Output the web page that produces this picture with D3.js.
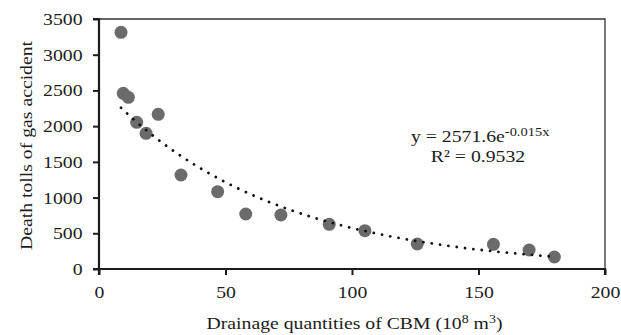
<!DOCTYPE html>
<html>
<head>
<meta charset="utf-8">
<script src="https://cdn.jsdelivr.net/npm/d3@7"></script>
<style>
  html, body { margin: 0; padding: 0; background: #fff; }
  svg { display: block; font-family: "Liberation Serif", "Times New Roman", serif; }
</style>
</head>
<body>
<svg id="chart" width="621" height="335"></svg>
<script>
// Drainage quantities of CBM (10^8 m^3) and death tolls of gas accidents
const drainage = [8.7, 9.6, 11.6, 14.9, 18.6, 23.4, 32.4, 46.9, 58.0, 71.9, 91.0, 105.1, 125.8, 155.9, 170.0, 180.0];
const deaths   = [3314, 2460, 2404, 2054, 1900, 2166, 1316, 1083, 770, 756, 625, 537, 350, 345, 266, 168];

// Exponential trendline y = a·e^(b·x)
const fitA = 2571.6;
const fitB = -0.015;
const fitR2 = 0.9532;

const xTicks = [0, 50, 100, 150, 200];
const yTicks = [0, 500, 1000, 1500, 2000, 2500, 3000, 3500];

const svg = d3.select("#chart");
const margin = { left: 99, right: 16, top: 19, bottom: 66 };
const W = 621, H = 335;

const x = d3.scaleLinear().domain([0, 200]).range([margin.left, W - margin.right]);
const y = d3.scaleLinear().domain([0, 3500]).range([H - margin.bottom, margin.top]);

const fontSize = 17;
const wide = 1.16;   // horizontal widening of the serif glyphs
const ink = "#1c1c1c";

// plot-area frame (top and right edges)
svg.append("path")
  .attr("d", `M${x(0)},${y(3500)}H${x(200)}V${y(0)}`)
  .attr("fill", "none").attr("stroke", "#333").attr("stroke-width", 1.3);

// axes
const xAxis = svg.append("g")
  .attr("transform", `translate(0,${y(0)})`)
  .call(d3.axisBottom(x).tickValues(xTicks).tickSize(6).tickFormat(d3.format("d")));
const yAxis = svg.append("g")
  .attr("transform", `translate(${x(0)},0)`)
  .call(d3.axisLeft(y).tickValues(yTicks).tickSize(6).tickFormat(d3.format("d")));

[xAxis, yAxis].forEach(g => {
  g.select(".domain").attr("stroke", ink).attr("stroke-width", 2.2);
  g.selectAll(".tick line").attr("stroke", ink).attr("stroke-width", 2);
  g.selectAll(".tick text")
    .attr("fill", ink)
    .style("font-family", "'Liberation Serif', serif")
    .style("font-size", fontSize + "px")
    .attr("transform", `scale(${wide},1)`);
});
xAxis.selectAll(".tick text").attr("y", 17);
yAxis.selectAll(".tick text").attr("x", -16.5 / wide);
xAxis.select(".domain").attr("d", `M${x(0)},6V0H${x(200)}V6`);
yAxis.select(".domain").attr("d", `M-6,${y(0)}H0V${y(3500)}H-6`);

// data points
svg.append("g").selectAll("circle")
  .data(drainage.map((d, i) => [d, deaths[i]]))
  .join("circle")
  .attr("cx", d => x(d[0]))
  .attr("cy", d => y(d[1]))
  .attr("r", 6.5)
  .attr("fill", "#6b6b6b");

// dotted exponential trendline across the data range
const xMin = d3.min(drainage), xMax = d3.max(drainage);
const fitPts = d3.range(0, 201).map(i => {
  const xv = xMin + (xMax - xMin) * i / 200;
  return [xv, fitA * Math.exp(fitB * xv)];
});
svg.append("path")
  .datum(fitPts)
  .attr("d", d3.line().x(d => x(d[0])).y(d => y(d[1])))
  .attr("fill", "none")
  .attr("stroke", "#111")
  .attr("stroke-width", 2.8)
  .attr("stroke-linecap", "round")
  .attr("stroke-dasharray", "0.01 8.4");

// widened text placed at (px, py)
function label(px, py, anchor, rot) {
  const g = svg.append("g")
    .attr("transform", `translate(${px},${py})` + (rot ? ` rotate(${rot})` : ""));
  return g.append("text")
    .attr("transform", `scale(${wide},1)`)
    .attr("text-anchor", anchor)
    .attr("fill", ink)
    .style("font-size", fontSize + "px");
}

// trendline equation
const eq = label(411, 141.5, "start");
eq.append("tspan").text(`y = ${fitA}e`);
eq.append("tspan").attr("dy", -5.5).style("font-size", "12.5px").text(`${fitB}x`);

label(478, 161.5, "middle").text(`R² = ${fitR2}`);

// axis titles
const xt = label(354.5, 329, "middle");
xt.append("tspan").text("Drainage quantities of CBM (10");
xt.append("tspan").attr("dy", -6).style("font-size", "12px").text("8");
xt.append("tspan").attr("dy", 6).text(" m");
xt.append("tspan").attr("dy", -6).style("font-size", "12px").text("3");
xt.append("tspan").attr("dy", 6).text(")");

label(31.5, 145.5, "middle", -90).text("Death tolls of gas accident");
</script>
</body>
</html>
